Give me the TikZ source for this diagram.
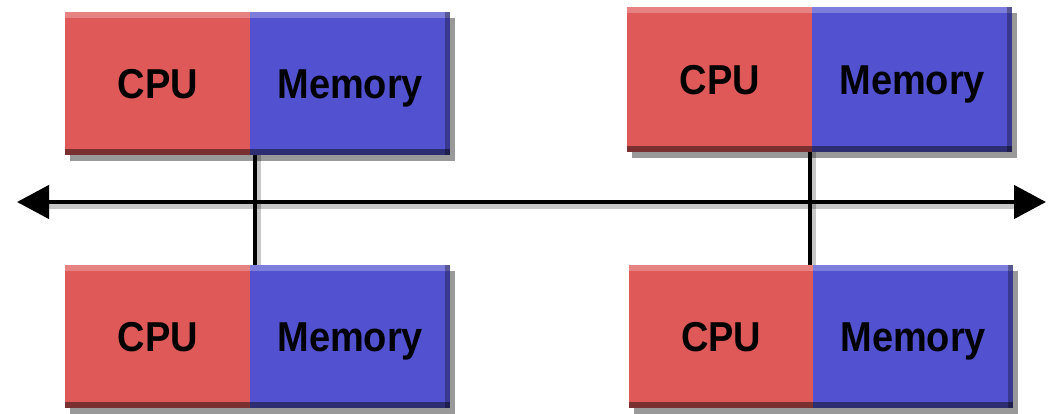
\documentclass[tikz,border=0pt]{standalone}
\usepackage{fontspec}
\setmainfont{Liberation Sans}
\usetikzlibrary{arrows.meta,shadows,calc}
\definecolor{cpured}{RGB}{224,89,89}
\definecolor{memblue}{RGB}{82,82,208}
\tikzset{
  unitbox/.style={draw=none, inner sep=0pt, anchor=north west,
    font=\fontsize{38}{40}\selectfont\bfseries,
    text height=30pt, text depth=0pt,
    drop shadow={shadow xshift=5pt, shadow yshift=-6pt, opacity=0.5, fill=black!80},
    path picture={
      \fill[white,opacity=0.25] (path picture bounding box.north west) rectangle ([yshift=-6pt]path picture bounding box.north east);
      \fill[black,opacity=0.45] ([yshift=6pt]path picture bounding box.south west) rectangle (path picture bounding box.south east);
    }},
  cpubox/.style={unitbox, fill=cpured},
  membox/.style={unitbox, fill=memblue},
  wire/.style={line width=4.5pt, black},
  wireshadow/.style={line width=6pt, black, opacity=0.22},
  bustip/.style={-{Triangle[length=32pt,width=33pt]}},
}
\newcommand{\utext}[1]{\scalebox{1}[1.1]{#1}}
\begin{document}
\begin{tikzpicture}[x=1pt,y=-1pt]
\useasboundingbox (0,0) rectangle (1050,414);
% coordinates of the bus
\coordinate (busL) at (17,202);
\coordinate (busR) at (1046,202);
% top-left
\node[cpubox, minimum width=185pt, minimum height=143pt] (c1) at (65,12) {\utext{CPU}};
\node[membox, minimum width=200pt, minimum height=143pt] (m1) at (250,12) {\utext{Memory}};
% top-right
\node[cpubox, minimum width=185pt, minimum height=145pt] (c2) at (627,7) {\utext{CPU}};
\node[membox, minimum width=200pt, minimum height=145pt] (m2) at (812,7) {\utext{Memory}};
% bottom-left
\node[cpubox, minimum width=185pt, minimum height=143pt] (c3) at (65,265) {\utext{CPU}};
\node[membox, minimum width=200pt, minimum height=143pt] (m3) at (250,265) {\utext{Memory}};
% bottom-right
\node[cpubox, minimum width=184pt, minimum height=143pt] (c4) at (629,265) {\utext{CPU}};
\node[membox, minimum width=200pt, minimum height=143pt] (m4) at (813,265) {\utext{Memory}};
% right-edge darkening on memory boxes
\foreach \m in {m1,m2,m3,m4}{
  \fill[black,opacity=0.3] ($(\m.north east)+(-5,0)$) rectangle (\m.south east);
}
% shadows of wires
\draw[wireshadow] ($(busL)+(30,4)$) -- ($(busR)+(-30,4)$);
\draw[wireshadow] ($(m1.south west)+(8,0)$) -- ($(m3.north west)+(8,0)$);
\draw[wireshadow] ($(m2.south west)+(1,0)$) -- ($(m4.north west)+(0,0)$);
% vertical connectors
\draw[wire] ($(m1.south west)+(5,0)$) -- ($(m3.north west)+(5,0)$);
\draw[wire] ($(m2.south west)+(-2,0)$) -- ($(m4.north west)+(-3,0)$);
% bus
\draw[wire, bustip] ($(busL)!0.5!(busR)$) -- (busR);
\draw[wire, bustip] ($(busL)!0.5!(busR)$) -- (busL);
\end{tikzpicture}
\end{document}
